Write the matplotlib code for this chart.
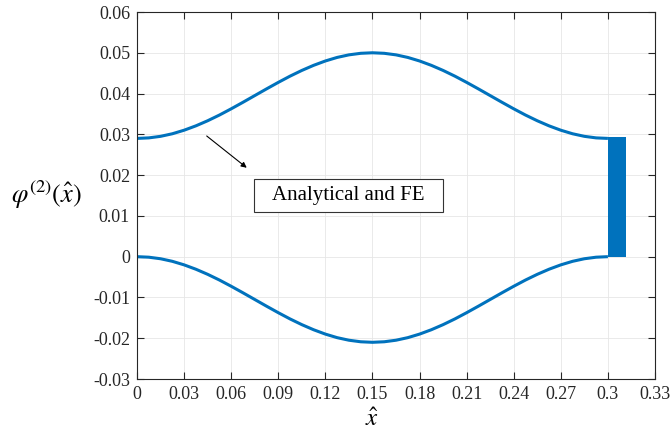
import numpy as np
import matplotlib
matplotlib.use("Agg")
import matplotlib.pyplot as plt
from matplotlib.patches import Rectangle

# values
x_hat = [0, 0.0075, 0.015, 0.0225, 0.03, 0.0375, 0.045, 0.0525, 0.06, 0.0675,
         0.075, 0.0825, 0.09, 0.0975, 0.105, 0.1125, 0.12, 0.1275, 0.135, 0.1425,
         0.15, 0.1575, 0.165, 0.1725, 0.18, 0.1875, 0.195, 0.2025, 0.21, 0.2175,
         0.225, 0.2325, 0.24, 0.2475, 0.255, 0.2625, 0.27, 0.2775, 0.285, 0.2925, 0.3]
phi_upper = [0.0290, 0.02913, 0.02951, 0.03014, 0.03101, 0.03208, 0.03333, 0.03473, 0.03626, 0.03786,
             0.0395, 0.04114, 0.04274, 0.04427, 0.04567, 0.04692, 0.04799, 0.04886, 0.04949, 0.04987,
             0.0500, 0.04987, 0.04949, 0.04886, 0.04799, 0.04692, 0.04567, 0.04427, 0.04274, 0.04114,
             0.0395, 0.03786, 0.03626, 0.03473, 0.03333, 0.03208, 0.03101, 0.03014, 0.02951, 0.02913, 0.0290]
phi_lower = [0.0, -0.00013, -0.00051, -0.00114, -0.00201, -0.00308, -0.00433, -0.00573, -0.00726, -0.00886,
             -0.0105, -0.01214, -0.01374, -0.01527, -0.01667, -0.01792, -0.01899, -0.01986, -0.02049, -0.02087,
             -0.0210, -0.02087, -0.02049, -0.01986, -0.01899, -0.01792, -0.01667, -0.01527, -0.01374, -0.01214,
             -0.0105, -0.00886, -0.00726, -0.00573, -0.00433, -0.00308, -0.00201, -0.00114, -0.00051, -0.00013, 0.0]
bar_x = 0.3
bar_top = 0.0294
bar_w = 0.0115

xticks = [0, 0.03, 0.06, 0.09, 0.12, 0.15, 0.18, 0.21, 0.24, 0.27, 0.3, 0.33]
xtick_labels = ["0", "0.03", "0.06", "0.09", "0.12", "0.15", "0.18", "0.21", "0.24", "0.27", "0.3", "0.33"]
yticks = [-0.03, -0.02, -0.01, 0, 0.01, 0.02, 0.03, 0.04, 0.05, 0.06]
ytick_labels = ["-0.03", "-0.02", "-0.01", "0", "0.01", "0.02", "0.03", "0.04", "0.05", "0.06"]

plt.rcParams['font.family'] = ['Liberation Serif', 'DejaVu Serif']
plt.rcParams['mathtext.fontset'] = 'stix'

blue = "#0072BD"
dark = "#262626"

fig = plt.figure(figsize=(6.7, 4.38), dpi=100)
ax = fig.add_axes([0.2045, 0.1347, 0.7731, 0.8379])

ax.plot(x_hat, phi_upper, color=blue, lw=2.2, solid_capstyle='butt')
ax.plot(x_hat, phi_lower, color=blue, lw=2.2, solid_capstyle='butt')
ax.bar(bar_x, bar_top, width=bar_w, align='edge', color=blue, linewidth=0)

ax.set_xlim(0, 0.33)
ax.set_ylim(-0.03, 0.06)
ax.set_xticks(xticks)
ax.set_xticklabels(xtick_labels)
ax.set_yticks(yticks)
ax.set_yticklabels(ytick_labels)
ax.tick_params(direction='in', top=True, right=True, length=5, width=0.8,
               color=dark, labelcolor=dark, labelsize=13, pad=5)
for s in ax.spines.values():
    s.set_color(dark)
    s.set_linewidth(0.8)
ax.grid(True, color="#e6e6e6", lw=0.6)
ax.set_axisbelow(True)

# annotation arrow + text box
ax.annotate("", xy=(0.0699, 0.0218), xytext=(0.0444, 0.0296),
            arrowprops=dict(arrowstyle="-|>", color="black", lw=0.8,
                            mutation_scale=8, shrinkA=0, shrinkB=0))
ax.add_patch(Rectangle((0.0745, 0.0109), 0.1205, 0.0081, fc="white",
                       ec="#333333", lw=0.8, zorder=4))
ax.text(0.1348, 0.0150, "Analytical and FE", fontsize=15, ha='center', va='center',
        zorder=5)

fig.text(46 / 670, 1 - 195 / 438, r"$\varphi^{(2)}(\hat{x})$", fontsize=19,
         ha='center', va='center')
fig.text(372 / 670, 1 - 420 / 438, r"$\hat{x}$", fontsize=18, ha='center', va='center')

fig.savefig("out.png", dpi=100)
